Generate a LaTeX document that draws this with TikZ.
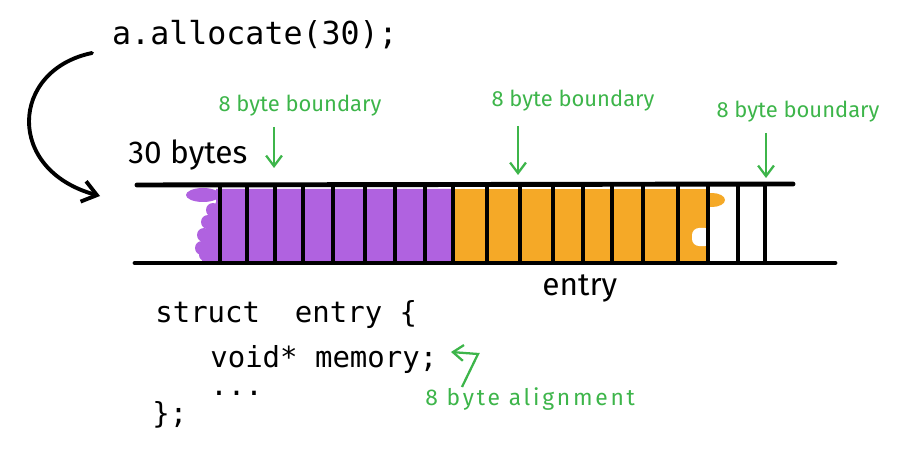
\documentclass[tikz,border=0pt]{standalone}
\usepackage{fontspec}
\setmainfont{Fira Sans}
\setmonofont{DejaVu Sans Mono}
\usepackage{xcolor}
\usepackage{tikz}
\usetikzlibrary{arrows.meta,positioning}
\definecolor{memviolet}{HTML}{B062E0}
\definecolor{memorange}{HTML}{F5A927}
\definecolor{notegreen}{HTML}{3DB54A}

\begin{document}
\begin{tikzpicture}[
  x=0.02cm, y=-0.02cm,
  every node/.style={inner sep=0pt},
  bigtext/.style={font=\ttfamily\fontsize{18}{22}\selectfont},
  codetext/.style={font=\ttfamily\fontsize{16.5}{20}\selectfont, anchor=west},
  labeltext/.style={font=\fontsize{18}{21}\selectfont, anchor=west},
  note/.style={font=\fontsize{12.5}{15}\selectfont, text=notegreen},
  rail/.style={line width=2.8pt, line cap=round},
  cellwall/.style={line width=1.8pt},
  arr/.style={-{Straight Barb[length=6pt,width=9pt]}, line width=1.3pt, draw=notegreen},
  callarr/.style={-{Straight Barb[length=8pt,width=12pt]}, line width=2.2pt, line cap=round},
]
\useasboundingbox (0,0) rectangle (917,466);

% Call
\node[bigtext] (call) at (255,35) {a.allocate(30);};
\node[labeltext] (size) at (128,155) {30 bytes};

% Fills: purple and orange bytes
\fill[memviolet] (453,189) -- (216,189) -- (216,202) -- (213,210) -- (208,222)
  -- (204,235) -- (202,248) -- (202,261) -- (453,261) -- cycle;
\fill[memviolet] (203,195) ellipse (17 and 7);
\fill[memviolet] (213,210) circle (7);
\fill[memviolet] (208,222) circle (7);
\fill[memviolet] (204,235) circle (7);
\fill[memviolet] (202,248) circle (7);
\fill[memviolet] (205,255) circle (6);
\fill[memorange] (453,189) rectangle (707,261);
\fill[memorange] (712,200) ellipse (13 and 7);
\fill[white, rounded corners=4pt] (692,228) rectangle (712,246);

% Rails and cell walls
\draw[rail] (137,185) -- (793,184);
\draw[rail] (135,263) -- (835,263);
\foreach \x in {220,247,275,303,333,365,395,425,453,487,520,553,583,612,643,678,708,738,765}
  \draw[cellwall] (\x,185) -- (\x,263);

% Boundaries
\coordinate (b1) at (274,168);
\coordinate (b2) at (518,175);
\coordinate (b3) at (766,178);
\node[note] (lab1) at (300,106) {8 byte boundary};
\node[note] (lab2) at (573,101) {8 byte boundary};
\node[note] (lab3) at (798,112) {8 byte boundary};
\draw[arr] (b1 |- lab1.south) ++(0,10) -- (b1);
\draw[arr] (b2 |- lab2.south) ++(0,14) -- (b2);
\draw[arr] (b3 |- lab3.south) ++(0,10) -- (b3);

% Arrow: call to memory
\coordinate (calltail) at (92,53);
\coordinate (barhead) at (100,196);
\draw[callarr] (calltail) .. controls (10,70) and (5,170) .. (barhead);

% Struct
\node[labeltext] (entrylab) at (542,288) {entry};
\node[codetext] (head) at (155,315) {struct\ \ entry\ \{};
\node[codetext] (memline) at (210,360) {void*\ memory;};
\node[codetext] (dots) at (210,393) {...};
\node[codetext] (close) at (152,415) {\};};

% Alignment note
\coordinate (semi) at (451,352);
\node[note, anchor=north west, font=\addfontfeatures{LetterSpace=12}\fontsize{13}{15}\selectfont]
  (alnote) at (425,387) {8 byte alignment};
\draw[arr] ([xshift=0.74cm]alnote.north west) -- ++(16,-33) -- (semi);

\end{tikzpicture}
\end{document}
